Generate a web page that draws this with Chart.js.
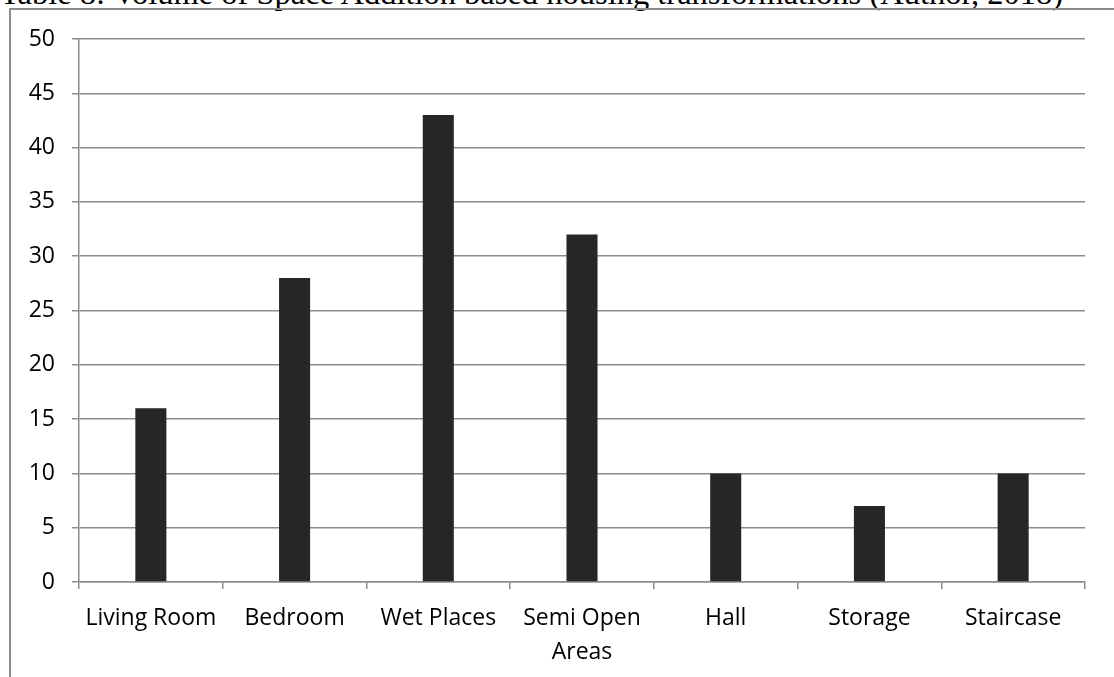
<!DOCTYPE html>
<html>
<head>
<meta charset="utf-8">
<script src="https://cdn.jsdelivr.net/npm/chart.js@4"></script>
<style>
  html, body { margin: 0; padding: 0; background: #fff; overflow: hidden; }
  #wrap { position: relative; width: 1114px; height: 677px; }
  #title {
    position: absolute; left: 0; top: -23px; white-space: nowrap; line-height: 32px;
    font-family: "Liberation Serif", "Times New Roman", serif; font-size: 32.5px; color: #000;
  }
  #frame {
    position: absolute; left: 9px; top: 8px; width: 1120px; height: 700px;
    border-left: 2px solid #8c8c8c; border-top: 2px solid #8c8c8c;
  }
  canvas { position: absolute; left: 0; top: 0; }
</style>
</head>
<body>
<div id="wrap">
  <div id="title">Table 8: Volume of Space Addition based housing transformations (Author, 2018)</div>
  <div id="frame"></div>
  <canvas id="chart" width="1114" height="677"></canvas>
</div>
<script>
const categories = ['Living Room', 'Bedroom', 'Wet Places', ['Semi Open', 'Areas'], 'Hall', 'Storage', 'Staircase'];
const values = [16, 28, 43, 32, 10, 7, 10];
const yTicks = [0, 5, 10, 15, 20, 25, 30, 35, 40, 45, 50];

const axisFont = { family: '"Open Sans", sans-serif', size: 23, lineHeight: 1.45 };
const gridColor = '#8c8c8c';

new Chart(document.getElementById('chart'), {
  type: 'bar',
  data: {
    labels: categories,
    datasets: [{
      data: values,
      backgroundColor: '#262626',
      categoryPercentage: 0.216,
      barPercentage: 1
    }]
  },
  options: {
    responsive: false,
    animation: false,
    layout: { padding: { left: 0, top: 39, right: 29, bottom: 0 } },
    plugins: { legend: { display: false }, tooltip: { enabled: false } },
    scales: {
      x: {
        offset: true,
        grid: { offset: true, drawOnChartArea: false, drawTicks: true, tickLength: 7, color: gridColor, lineWidth: 1.5 },
        border: { color: gridColor, width: 1.5 },
        ticks: { color: '#000', font: axisFont, padding: 13, maxRotation: 0, autoSkip: false },
        afterFit: s => { s.height = 95; }
      },
      y: {
        min: 0, max: 50,
        afterBuildTicks: s => { s.ticks = yTicks.map(v => ({ value: v })); },
        grid: { color: gridColor, lineWidth: 1.5, tickLength: 7 },
        border: { color: gridColor, width: 1.5 },
        ticks: { color: '#000', font: { family: '"Open Sans", sans-serif', size: 23 }, padding: 17 },
        afterFit: s => { s.width = 79; }
      }
    }
  }
});
</script>
</body>
</html>
